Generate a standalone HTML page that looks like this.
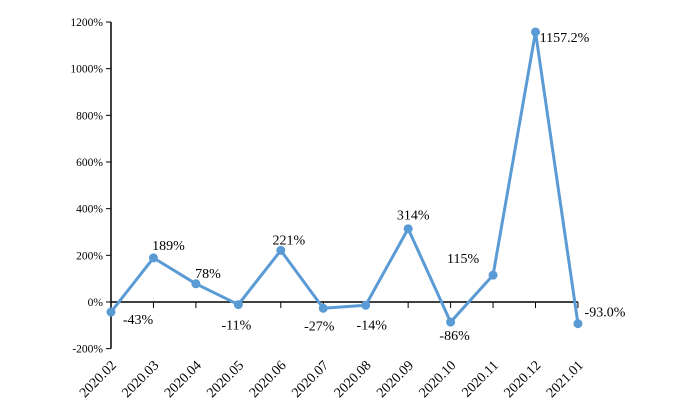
<!DOCTYPE html>
<html><head><meta charset="utf-8"><style>
body{margin:0;background:#fff}
svg{display:block;font-family:"Liberation Serif",serif}
</style></head><body>
<svg id="c" width="700" height="411"></svg>
<script>
const categories=["2020.02","2020.03","2020.04","2020.05","2020.06","2020.07","2020.08","2020.09","2020.10","2020.11","2020.12","2021.01"];
const values=[-43,189,78,-11,221,-27,-14,314,-86,115,1157.2,-93.0];
const valueLabels=["-43%","189%","78%","-11%","221%","-27%","-14%","314%","-86%","115%","1157.2%","-93.0%"];
const yTicks=[-200,0,200,400,600,800,1000,1200];
const labelDx=[27,15,12,-2,8,-4,6,5,4,-30,29,27];
const labelDy=[12,-8,-6,25,-6,22,24,-9,18,-12,10,-7];
const NS="http://www.w3.org/2000/svg";
const svg=document.getElementById('c');
const x0=111,step=42.45,yZero=302,yScale=280/1200;
const X=i=>x0+i*step;
const Y=v=>yZero-v*yScale;
function mk(t,a){const e=document.createElementNS(NS,t);for(const k in a)e.setAttribute(k,a[k]);svg.appendChild(e);return e;}
let e=mk('line',{x1:x0,y1:Y(1200),x2:x0,y2:Y(-200),stroke:'#000','stroke-width':1.5});


e=mk('line',{x1:x0,y1:yZero,x2:X(11),y2:yZero,stroke:'#000','stroke-width':1.5});


yTicks.forEach(t=>{
  const tk=mk('line',{x1:x0-5,y1:Y(t),x2:x0,y2:Y(t),stroke:'#000'});
  
  
  const tx=mk('text',{x:x0-8,y:Y(t)+4,'text-anchor':'end','font-size':11.5});
  tx.textContent=t+'%';
  
  
});
categories.forEach((c,i)=>{
  if(i>0){const tk=mk('line',{x1:X(i),y1:yZero,x2:X(i),y2:yZero+6,stroke:'#000'});
  
  }
  const tx=mk('text',{x:0,y:0,'text-anchor':'end','font-size':14,transform:`translate(${X(i)+6},${yZero+64}) rotate(-45)`});
  tx.textContent=c;
  
  
});
const ln=mk('polyline',{points:values.map((v,i)=>X(i)+','+Y(v)).join(' '),fill:'none',stroke:'#5b9bd5','stroke-width':3,'stroke-linejoin':'round'});


values.forEach((v,i)=>{
  const p=mk('circle',{cx:X(i),cy:Y(v),r:4.5,fill:'#5b9bd5'});
  
  
  const t=mk('text',{x:X(i)+labelDx[i],y:Y(v)+labelDy[i],'text-anchor':'middle','font-size':14});
  t.textContent=valueLabels[i];
  
  
});
</script>
</body></html>
